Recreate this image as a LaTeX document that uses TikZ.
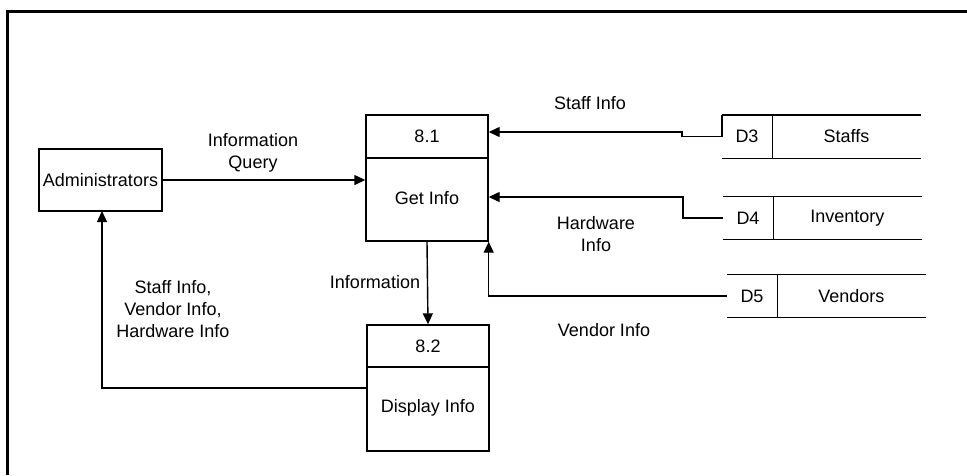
\documentclass[tikz,border=0pt]{standalone}
\usepackage{fontspec}
\setmainfont{Liberation Sans}
\usetikzlibrary{arrows.meta,positioning}
\tikzset{
  ln/.style={line width=1.4pt, line join=miter},
  flow/.style={ln, -{Triangle[length=11pt,width=10pt]}},
  proc/.style={draw, ln, minimum width=122pt, minimum height=126pt, inner sep=0pt},
  entity/.style={draw, ln, minimum width=123pt, minimum height=62pt, inner sep=0pt},
  storeid/.style={minimum height=43pt, minimum width=50pt, inner sep=0pt},
  storename/.style={minimum height=43pt, minimum width=148pt, inner sep=0pt},
  lbl/.style={align=center, inner sep=0pt},
}
\begin{document}
\begin{tikzpicture}[x=1pt,y=-1pt, font=\fontsize{18}{22}\selectfont]
\useasboundingbox (0,0) rectangle (967,475);
% frame
\draw[line width=3pt] (7,475) -- (7,11) -- (967,11);

% external entity
\node[entity] (admin) at (100.5,180) {Administrators};

% processes
\node[proc] (p81) at (427,178) {};
\draw[ln] (p81.west |- 0,158) -- (p81.east |- 0,158);
\node[lbl] (p81num) at (427,136.5) {8.1};
\node[lbl] (p81txt) at (427,198) {Get Info};

\node[proc] (p82) at (428,388) {};
\draw[ln] (p82.west |- 0,367) -- (p82.east |- 0,367);
\node[lbl] (p82num) at (428,346) {8.2};
\node[lbl] (p82txt) at (428,408) {Display Info};

% data stores
\node[storeid] (d3) at (747,136.5) {D3};
\node[storename, right=0pt of d3] (d3n) {Staffs};
\draw[ln] (d3.north west) -- (d3n.north east);
\draw[ln] (d3.south west) -- (d3n.south east);
\draw[ln] (d3.north east) -- (d3.south east);

\node[storeid] (d4) at (748,218) {D4};
\node[storename, right=0pt of d4] (d4n) {Inventory};
\draw[ln] (d4.north west) -- (d4n.north east);
\draw[ln] (d4.south west) -- (d4n.south east);
\draw[ln] (d4.north east) -- (d4.south east);

\node[storeid] (d5) at (752,296) {D5};
\node[storename, right=0pt of d5] (d5n) {Vendors};
\draw[ln] (d5.north west) -- (d5n.north east);
\draw[ln] (d5.south west) -- (d5n.south east);
\draw[ln] (d5.north east) -- (d5.south east);

% flows
\draw[flow] (admin.east) -- (admin.east -| p81.west);
\draw[flow] (d3.north west) -- (d3.west) -- (682,136.5) -- (682,132) -- (p81.east |- 0,132);
\draw[flow] (d4.west) -- (683,218) -- (683,197) -- (p81.east |- 0,197);
\draw[flow] (d5.west) -- (p81.east |- d5.west) -- (p81.south east);
\draw[flow] (p81.south) -- (p82.north);
\draw[flow] (p82.west |- 0,388) -- (102,388) -- (102,211);

% labels
\node[lbl] (lq) at (253,153) {Information\\Query};
\node[lbl] (ls) at (590,103) {Staff Info};
\node[lbl] (lh) at (596,234) {Hardware\\Info};
\node[lbl] (li) at (375,282) {Information};
\node[lbl] (lv) at (604,330) {Vendor Info};
\node[lbl] (lr) at (173,309) {Staff Info,\\Vendor Info,\\Hardware Info};
\end{tikzpicture}
\end{document}
